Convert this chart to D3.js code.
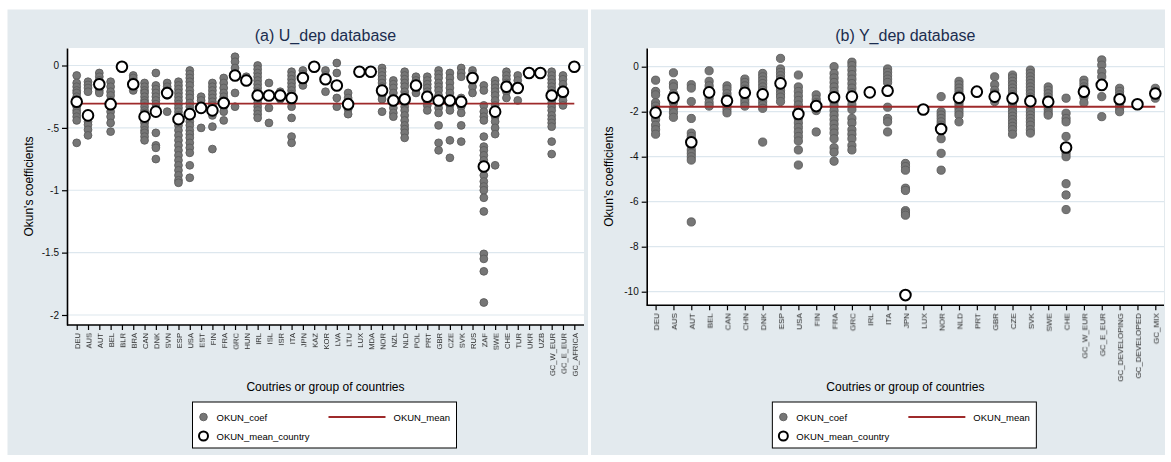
<!DOCTYPE html>
<html>
<head>
<meta charset="utf-8">
<script src="https://cdn.jsdelivr.net/npm/d3@7"></script>
<style>
  html, body { margin: 0; padding: 0; background: #ffffff; }
  svg { display: block; font-family: "Liberation Sans", Arial, sans-serif; }
</style>
</head>
<body>
<svg id="chart" width="1171" height="462"></svg>
<script>
// ---------- Panel (a): U_dep database ----------
const uCategories = ["DEU","AUS","AUT","BEL","BLR","BRA","CAN","DNK","SVN","ESP","USA","EST","FIN","FRA","GRC","HUN","IRL","ISL","ISR","ITA","JPN","KAZ","KOR","LVA","LTU","LUX","MDA","NOR","NZL","NLD","POL","PRT","GBR","CZE","SVK","RUS","ZAF","SWE","CHE","TUR","UKR","UZB","GC_W_EUR","GC_E_EUR","GC_AFRICA"];

const uCoef = [
  [-0.08,-0.14,-0.17,-0.2,-0.22,-0.25,-0.28,-0.3,-0.33,-0.36,-0.38,-0.41,-0.44,-0.62],
  [-0.13,-0.155,-0.18,-0.21,-0.45,-0.475,-0.515,-0.56],
  [-0.06,-0.09,-0.12,-0.14,-0.17,-0.2,-0.22],
  [-0.13,-0.17,-0.21,-0.24,-0.28,-0.33,-0.37,-0.41,-0.46,-0.53],
  [-0.01],
  [-0.08,-0.1,-0.13,-0.17,-0.2],
  [-0.14,-0.17,-0.2,-0.22,-0.25,-0.28,-0.3,-0.33,-0.36,-0.38,-0.44,-0.46,-0.49,-0.52,-0.54,-0.57,-0.6],
  [-0.06,-0.16,-0.19,-0.22,-0.25,-0.28,-0.31,-0.34,-0.54,-0.64,-0.66,-0.75],
  [-0.14,-0.17,-0.2,-0.24,-0.37],
  [-0.13,-0.16,-0.19,-0.22,-0.25,-0.28,-0.31,-0.34,-0.37,-0.4,-0.45,-0.48,-0.52,-0.56,-0.6,-0.64,-0.68,-0.72,-0.76,-0.8,-0.84,-0.88,-0.92,-0.94],
  [-0.04,-0.07,-0.1,-0.13,-0.16,-0.2,-0.23,-0.26,-0.3,-0.33,-0.36,-0.42,-0.45,-0.48,-0.52,-0.55,-0.58,-0.62,-0.66,-0.7,-0.8,-0.9],
  [-0.25,-0.28,-0.5],
  [-0.14,-0.17,-0.2,-0.23,-0.26,-0.29,-0.32,-0.4,-0.49,-0.67],
  [-0.1,-0.14,-0.18,-0.22,-0.25,-0.28,-0.33,-0.37,-0.44],
  [0.07,0.03,-0.02,-0.22,-0.33],
  [-0.09,-0.12],
  [0,-0.03,-0.06,-0.09,-0.12,-0.15,-0.18,-0.21,-0.27,-0.3,-0.33,-0.36,-0.39,-0.42],
  [-0.14,-0.24,-0.34,-0.46],
  [-0.21,-0.24,-0.27],
  [-0.05,-0.08,-0.11,-0.14,-0.17,-0.2,-0.23,-0.3,-0.33,-0.42,-0.57,-0.62],
  [-0.04,-0.07,-0.1,-0.13,-0.16],
  [-0.01],
  [-0.04,-0.08,-0.21],
  [0.02,-0.06,-0.26,-0.33],
  [-0.22,-0.26,-0.3,-0.35,-0.39],
  [-0.05],
  [-0.05],
  [-0.02,-0.05,-0.08,-0.11,-0.14,-0.17,-0.2,-0.24,-0.27,-0.37],
  [-0.12,-0.15,-0.18,-0.22,-0.26,-0.3,-0.34,-0.38,-0.41],
  [-0.05,-0.08,-0.11,-0.14,-0.17,-0.21,-0.24,-0.3,-0.33,-0.36,-0.4,-0.44,-0.48,-0.51,-0.54,-0.58],
  [-0.09,-0.12,-0.15,-0.19,-0.22],
  [-0.09,-0.12,-0.15,-0.18,-0.21,-0.29,-0.32,-0.36],
  [-0.04,-0.07,-0.1,-0.14,-0.17,-0.2,-0.24,-0.3,-0.34,-0.38,-0.48,-0.62,-0.68],
  [-0.06,-0.1,-0.14,-0.18,-0.22,-0.32,-0.36,-0.6,-0.74],
  [-0.02,-0.06,-0.09,-0.26,-0.33,-0.38,-0.48,-0.61],
  [-0.04,-0.07,-0.13,-0.17,-0.22],
  [-0.16,-0.2,-0.32,-0.37,-0.41,-0.44,-0.57,-0.65,-0.68,-0.72,-0.76,-0.88,-0.93,-0.97,-1.0,-1.06,-1.17,-1.51,-1.55,-1.65,-1.9],
  [-0.12,-0.15,-0.18,-0.21,-0.24,-0.28,-0.32,-0.41,-0.45,-0.5,-0.55,-0.8],
  [-0.05,-0.08,-0.11,-0.14,-0.21,-0.26],
  [-0.08,-0.12,-0.28],
  [-0.06],
  [-0.06],
  [-0.05,-0.08,-0.11,-0.14,-0.17,-0.2,-0.27,-0.3,-0.33,-0.36,-0.4,-0.43,-0.46,-0.49,-0.61,-0.71],
  [-0.08,-0.11,-0.15,-0.19,-0.24,-0.28,-0.32],
  [-0.02]
];

const uMeanCountry = [-0.29,-0.40,-0.15,-0.31,-0.01,-0.15,-0.41,-0.37,-0.22,-0.43,-0.39,-0.34,-0.36,-0.30,-0.08,-0.12,-0.24,-0.24,-0.24,-0.26,-0.10,-0.01,-0.11,-0.16,-0.31,-0.05,-0.05,-0.20,-0.28,-0.27,-0.16,-0.25,-0.28,-0.28,-0.29,-0.10,-0.81,-0.37,-0.17,-0.18,-0.06,-0.06,-0.24,-0.21,-0.01];
const uMean = -0.305;
const uTicks = [0, -0.5, -1, -1.5, -2];

// ---------- Panel (b): Y_dep database ----------
const yCategories = ["DEU","AUS","AUT","BEL","CAN","CHN","DNK","ESP","USA","FIN","FRA","GRC","IRL","ITA","JPN","LUX","NOR","NLD","PRT","GBR","CZE","SVK","SWE","CHE","GC_W_EUR","GC_E_EUR","GC_DEVELOPING","GC_DEVELOPED","GC_MIX"];

const yCoef = [
  [-0.6,-1.1,-1.25,-1.6,-1.75,-1.9,-2.15,-2.35,-2.6,-2.8,-3.0],
  [-0.27,-0.75,-0.9,-1.2,-1.6,-1.85,-2.05,-2.25],
  [-0.8,-0.95,-1.55,-2.3,-2.95,-3.1,-3.5,-3.7,-3.85,-4.0,-4.15,-6.9],
  [-0.18,-0.65,-0.85,-1.4,-1.6,-1.75],
  [-0.85,-1.0,-1.2,-1.35,-1.75,-1.9,-2.05],
  [-0.55,-0.7,-0.85,-1.0,-1.45,-1.6,-1.75],
  [-0.3,-0.45,-0.6,-0.75,-0.9,-1.05,-1.4,-1.55,-1.7,-1.85,-3.35],
  [0.37,-0.1,-0.25,-0.4,-0.55,-0.9,-1.05,-1.2,-1.35,-1.55],
  [-0.37,-0.9,-1.1,-1.3,-1.5,-1.7,-1.9,-2.3,-2.5,-2.7,-2.9,-3.1,-3.3,-3.7,-4.37],
  [-1.25,-1.45,-1.6,-1.95,-2.9],
  [0,-0.3,-0.5,-0.7,-0.9,-1.1,-1.55,-1.75,-1.95,-2.15,-2.35,-2.55,-2.75,-2.95,-3.2,-3.6,-3.8,-4.2],
  [0.2,0.05,-0.15,-0.35,-0.55,-0.75,-0.95,-1.15,-1.5,-1.7,-1.9,-2.3,-2.5,-2.8,-3.0,-3.2,-3.5,-3.7],
  [-1.14],
  [-0.1,-0.25,-0.4,-0.55,-0.7,-1.8,-2.3,-2.45,-2.9],
  [-4.3,-4.44,-4.6,-5.4,-5.5,-6.4,-6.5,-6.6],
  [-1.9],
  [-1.33,-2.0,-2.15,-2.3,-2.45,-2.6,-2.8,-3.2,-3.85,-4.6],
  [-0.65,-0.8,-0.95,-1.1,-1.25,-1.55,-1.7,-1.85,-2.0,-2.15,-2.45],
  [-1.11],
  [-0.45,-0.8,-1.05,-1.2,-1.55],
  [-0.37,-0.5,-0.65,-0.8,-0.95,-1.1,-1.25,-1.6,-1.75,-1.9,-2.05,-2.2,-2.35,-2.5,-2.65,-2.8,-3.0],
  [-0.15,-0.3,-0.45,-0.6,-0.75,-0.9,-1.05,-1.2,-1.35,-1.7,-1.85,-2.0,-2.15,-2.3,-2.45,-2.6,-2.8,-2.95],
  [-0.9,-1.05,-1.2,-1.35,-1.75,-1.9,-2.05,-2.15],
  [-1.4,-2.07,-2.3,-2.45,-3.1,-3.85,-4.0,-5.2,-5.7,-6.35],
  [-0.6,-0.75,-0.9,-1.0,-1.35,-1.6],
  [0.3,0.07,-0.22,-0.45,-1.33,-2.22],
  [-0.96,-1.1,-1.25,-1.7,-1.85,-2.0],
  [-1.67],
  [-0.96,-1.4]
];

const yMeanCountry = [-2.04,-1.38,-3.36,-1.14,-1.51,-1.16,-1.23,-0.74,-2.1,-1.75,-1.36,-1.33,-1.14,-1.07,-10.15,-1.9,-2.77,-1.38,-1.11,-1.33,-1.41,-1.53,-1.56,-3.59,-1.11,-0.81,-1.45,-1.67,-1.19];
const yMean = -1.78;
const yTicks = [0, -2, -4, -6, -8, -10];

// ---------- Drawing ----------
const svg = d3.select("#chart");
const BG = "#e3eaee";
const GRID = "#dde7ee";
const DOT_FILL = "#767676";
const DOT_STROKE = "#5c5c5c";
const MEAN_RED = "#9e2a2b";
const TITLE_COLOR = "#1b2d4f";
const FONT = "'Liberation Sans', Arial, sans-serif";

// identity filter: rasterises the rotated labels with plain grey antialiasing
svg.append("defs").append("filter").attr("id", "flat")
  .attr("x", 0).attr("y", 0).attr("width", 1).attr("height", 1)
  .append("feOffset").attr("dx", 0).attr("dy", 0);

const stataFmt = d => d === 0 ? "0" : String(d).replace("0.", ".");

function drawPanel(p) {
  const g = svg.append("g");

  // panel background
  g.append("rect")
    .attr("x", p.frame[0]).attr("y", p.frame[1])
    .attr("width", p.frame[2] - p.frame[0]).attr("height", p.frame[3] - p.frame[1])
    .attr("fill", BG);

  // plot region
  g.append("rect")
    .attr("x", p.plot.left).attr("y", p.plot.top)
    .attr("width", p.plot.right - p.plot.left).attr("height", p.plot.bottom - p.plot.top)
    .attr("fill", "#ffffff");

  const x = d3.scalePoint().domain(p.categories).range(p.xRange);
  const y = d3.scaleLinear().domain(p.yDomain).range([p.plot.top, p.plot.bottom]);

  // gridlines
  g.append("g").selectAll("line").data(p.ticks).join("line")
    .attr("x1", p.plot.left).attr("x2", p.plot.right)
    .attr("y1", d => y(d)).attr("y2", d => y(d))
    .attr("stroke", GRID).attr("stroke-width", 1.2);

  // individual coefficients
  const pts = p.categories.flatMap((c, i) => p.coef[i].map(v => ({ c, v })));
  g.append("g").selectAll("circle").data(pts).join("circle")
    .attr("cx", d => x(d.c)).attr("cy", d => y(d.v))
    .attr("r", p.dotR)
    .attr("fill", DOT_FILL).attr("stroke", DOT_STROKE).attr("stroke-width", 0.9);

  // overall mean line
  g.append("line")
    .attr("x1", x(p.categories[0])).attr("x2", x(p.categories[p.categories.length - 1]))
    .attr("y1", y(p.mean)).attr("y2", y(p.mean))
    .attr("stroke", MEAN_RED).attr("stroke-width", 1.8);

  // country means
  g.append("g").selectAll("circle").data(p.categories.map((c, i) => ({ c, v: p.meanCountry[i] }))).join("circle")
    .attr("cx", d => x(d.c)).attr("cy", d => y(d.v))
    .attr("r", 5.3)
    .attr("fill", "#ffffff").attr("stroke", "#000000").attr("stroke-width", 2);

  // y axis
  const ya = g.append("g").attr("transform", `translate(${p.plot.left},0)`)
    .call(d3.axisLeft(y).tickValues(p.ticks).tickFormat(stataFmt).tickSizeInner(5).tickSizeOuter(0).tickPadding(3));
  ya.select(".domain").attr("stroke", "#000").attr("stroke-width", 1.6);
  ya.selectAll(".tick line").attr("stroke", "#000").attr("stroke-width", 1.2);
  ya.selectAll(".tick text").attr("font-size", 10).attr("fill", "#111").attr("font-family", FONT);

  // x axis
  const xa = g.append("g").attr("transform", `translate(0,${p.plot.bottom})`)
    .call(d3.axisBottom(x).tickSizeInner(5).tickSizeOuter(0));
  xa.select(".domain").remove();
  xa.append("line").attr("x1", p.plot.left).attr("x2", p.plot.right)
    .attr("y1", 0).attr("y2", 0).attr("stroke", "#000").attr("stroke-width", 1.6);
  xa.selectAll(".tick line").attr("stroke", "#000").attr("stroke-width", 1.2);
  xa.selectAll(".tick text")
    .attr("transform", "rotate(-90)")
    .attr("x", -8).attr("y", 0).attr("dy", "0.35em")
    .attr("text-anchor", "end")
    .attr("font-size", p.xFont).attr("fill", "#222")
    .attr("font-family", FONT)
    .attr("filter", "url(#flat)");

  const cx = (p.plot.left + p.plot.right) / 2;

  // title
  g.append("text").attr("x", cx).attr("y", 41).attr("text-anchor", "middle")
    .attr("font-size", 16).attr("fill", TITLE_COLOR).text(p.title);

  // axis titles
  g.append("text").attr("x", cx).attr("y", 391).attr("text-anchor", "middle")
    .attr("font-size", 12).attr("fill", "#000").text("Coutries or group of countries");
  g.append("text")
    .attr("transform", `translate(${p.yTitleX},${(p.plot.top + p.plot.bottom) / 2}) rotate(-90)`)
    .attr("text-anchor", "middle").attr("font-size", 12).attr("fill", "#000")
    .text("Okun's coefficients");

  // legend
  const lx = cx - 133, ly = 402, lw = 264, lh = 46;
  const lg = g.append("g");
  lg.append("rect").attr("x", lx).attr("y", ly).attr("width", lw).attr("height", lh)
    .attr("fill", "#ffffff").attr("stroke", "#000").attr("stroke-width", 1);
  lg.append("circle").attr("cx", lx + 11).attr("cy", ly + 15).attr("r", 3.8)
    .attr("fill", DOT_FILL).attr("stroke", DOT_STROKE).attr("stroke-width", 0.9);
  lg.append("text").attr("x", lx + 24).attr("y", ly + 18.5).attr("font-size", 9.5).text("OKUN_coef");
  lg.append("line").attr("x1", lx + 136).attr("x2", lx + 193).attr("y1", ly + 15).attr("y2", ly + 15)
    .attr("stroke", MEAN_RED).attr("stroke-width", 1.8);
  lg.append("text").attr("x", lx + 201).attr("y", ly + 18.5).attr("font-size", 9.5).text("OKUN_mean");
  lg.append("circle").attr("cx", lx + 11).attr("cy", ly + 34).attr("r", 4.5)
    .attr("fill", "#ffffff").attr("stroke", "#000").attr("stroke-width", 2);
  lg.append("text").attr("x", lx + 24).attr("y", ly + 37.5).attr("font-size", 9.5).text("OKUN_mean_country");
}

drawPanel({
  title: "(a) U_dep database",
  frame: [7.5, 9.5, 588, 455],
  plot: { left: 67, right: 584, top: 48, bottom: 325 },
  xRange: [76.7, 574.3],
  yDomain: [0.1403, -2.0802],
  categories: uCategories, coef: uCoef, meanCountry: uMeanCountry, mean: uMean, ticks: uTicks,
  dotR: 3.9, xFont: 7.6, yTitleX: 33
});

drawPanel({
  title: "(b) Y_dep database",
  frame: [591, 9.5, 1165, 455],
  plot: { left: 646.7, right: 1164, top: 48, bottom: 305.3 },
  xRange: [655.6, 1155.3],
  yDomain: [0.8311, -10.6044],
  categories: yCategories, coef: yCoef, meanCountry: yMeanCountry, mean: yMean, ticks: yTicks,
  dotR: 4.1, xFont: 8, yTitleX: 613
});
</script>
</body>
</html>
